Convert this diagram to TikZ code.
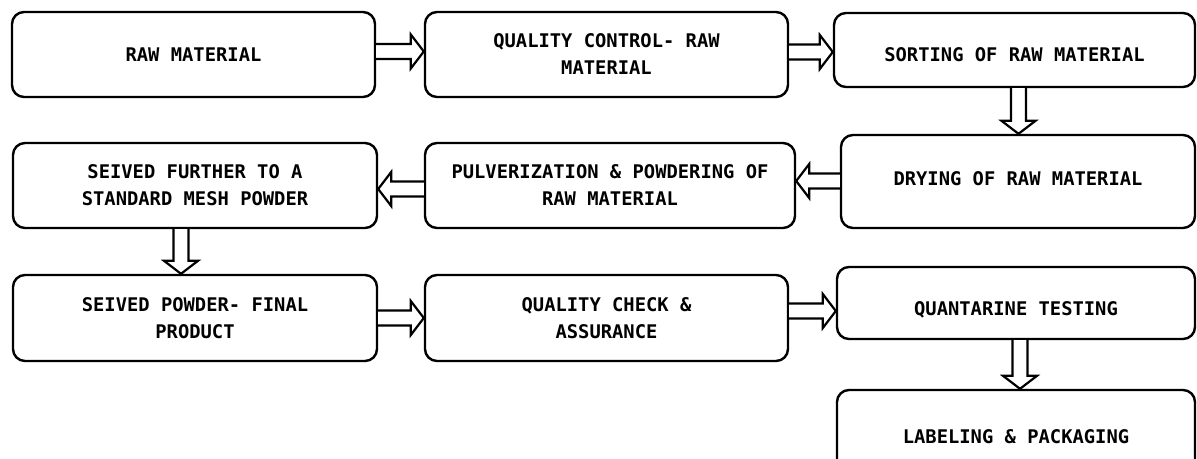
\documentclass[tikz,border=0pt]{standalone}
\usepackage{fontspec}
\setmonofont{DejaVu Sans Mono}
\usetikzlibrary{calc}
\newcommand\bx[6]{\node[box,minimum width={#4-#2},minimum height={#5-#3}] (#1) at ({(#2+#4)/2},{(#3+#5)/2}) {#6};}
\newcommand\shft[2]{\raisebox{#1}[\height][\depth]{#2}}
\newcommand\arR[3]{\draw[blk] let \p0=(0,#3), \p1=(#1.east), \p2=(#2.west) in
  (\x1,\y0+7.5pt) -- (\x2-13pt,\y0+7.5pt) -- (\x2-13pt,\y0+17pt) -- (\x2,\y0) -- (\x2-13pt,\y0-17pt) -- (\x2-13pt,\y0-7.5pt) -- (\x1,\y0-7.5pt);}
\newcommand\arL[3]{\draw[blk] let \p0=(0,#3), \p1=(#1.west), \p2=(#2.east) in
  (\x1,\y0+7.5pt) -- (\x2+13pt,\y0+7.5pt) -- (\x2+13pt,\y0+17pt) -- (\x2,\y0) -- (\x2+13pt,\y0-17pt) -- (\x2+13pt,\y0-7.5pt) -- (\x1,\y0-7.5pt);}
\newcommand\arD[3]{\draw[blk] let \p0=(#3,0), \p1=(#1.south), \p2=(#2.north) in
  (\x0-7.5pt,\y1) -- (\x0-7.5pt,\y2+13pt) -- (\x0-17pt,\y2+13pt) -- (\x0,\y2) -- (\x0+17pt,\y2+13pt) -- (\x0+7.5pt,\y2+13pt) -- (\x0+7.5pt,\y1);}
\begin{document}
\begin{tikzpicture}[x=1pt,y=-1pt,
  box/.style={draw, line width=2.4pt, rounded corners=12pt, align=center, inner sep=0pt,
    font=\ttfamily\bfseries\fontsize{18.8}{27}\selectfont},
  blk/.style={draw, line width=2.2pt, fill=white, line join=miter}]
\useasboundingbox (0,0) rectangle (1197,458);
\clip (0,0) rectangle (1197,458);
\bx{A}{12}{12}{375}{97}{RAW MATERIAL}
\bx{B}{425}{12}{788}{97}{QUALITY CONTROL- RAW\\MATERIAL}
\bx{C}{834}{13}{1195}{87}{\shft{-5pt}{SORTING OF RAW MATERIAL}}
\bx{D}{13}{143}{377}{228}{SEIVED FURTHER TO A\\STANDARD MESH POWDER}
\bx{E}{425}{143}{795}{228}{PULVERIZATION \& POWDERING OF\\RAW MATERIAL}
\bx{F}{841}{135}{1195}{228}{\shft{3pt}{DRYING OF RAW MATERIAL}}
\bx{G}{13}{275}{377}{361}{SEIVED POWDER- FINAL\\PRODUCT}
\bx{H}{425}{275}{788}{361}{QUALITY CHECK \&\\ASSURANCE}
\bx{I}{837}{267}{1195}{339}{\shft{-7pt}{QUANTARINE TESTING}}
\bx{J}{837}{390}{1195}{484}{LABELING \& PACKAGING}
\arR{A}{B}{51.5}
\arR{B}{C}{52}
\arD{C}{F}{1018.5}
\arL{F}{E}{181}
\arL{E}{D}{189}
\arD{D}{G}{181}
\arR{G}{H}{318}
\arR{H}{I}{311}
\arD{I}{J}{1020}
\end{tikzpicture}
\end{document}
